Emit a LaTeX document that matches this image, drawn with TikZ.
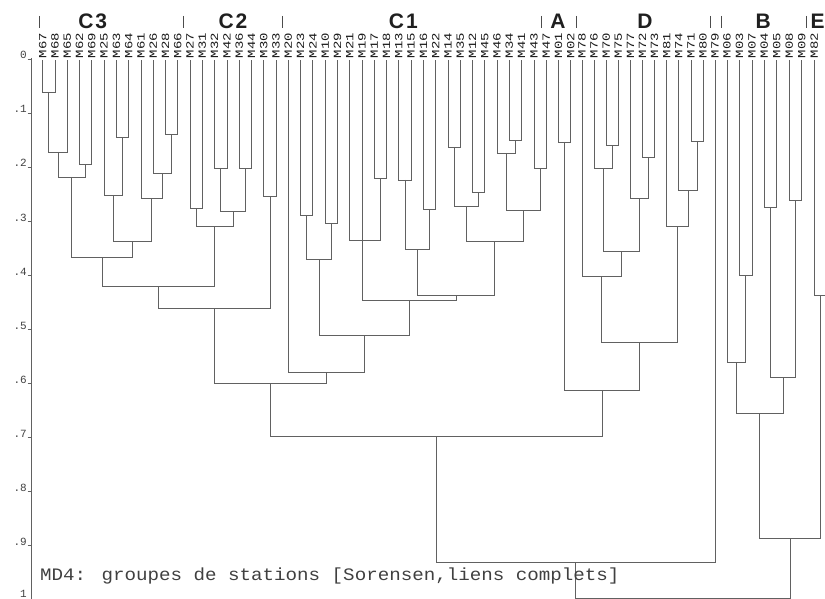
\documentclass[tikz,border=0pt]{standalone}
\usepackage{fontspec}
\usepackage{graphicx}
\usetikzlibrary{calc}
\newfontfamily\plotfont{Liberation Mono}
\newfontfamily\grpfont{Liberation Sans}
\tikzset{
  link/.style={draw=black!62, line width=0.75pt},
  leaflab/.style={font=\plotfont\fontsize{11}{11}\selectfont, text=black!90, inner sep=0pt, rotate=90, anchor=west},
  axlab/.style={font=\plotfont\fontsize{11}{11}\selectfont, text=black!75, inner sep=0pt, anchor=base east},
  grp/.style={font=\grpfont\bfseries\fontsize{21}{21}\selectfont, text=black!88, inner sep=0pt},
  grpbar/.style={draw=black!70, line width=0.9pt},
  axisline/.style={draw=black!62, line width=0.75pt},
  captext/.style={font=\plotfont\fontsize{14}{14}\selectfont, text=black!75, inner sep=0pt, anchor=base west},
}
\newcommand\mrg[4]{%
  \coordinate (h#1) at (0,#4);
  \coordinate (c#1) at ($(#2)!0.5!(#3)$);
  \coordinate (#1) at (c#1 |- h#1);
  \draw[link] (#2) -- (#2 |- h#1) -- (#3 |- h#1) -- (#3);
}
\begin{document}
\begin{tikzpicture}[x=1pt,y=-1pt]
\useasboundingbox (0,0) rectangle (825,599);
\clip (0,0) rectangle (825,599);
% leaves
\foreach \i/\lab in {0/M67,1/M68,2/M65,3/M62,4/M69,5/M25,6/M63,7/M64,8/M61,9/M26,10/M28,11/M66,
  12/M27,13/M31,14/M32,15/M42,16/M36,17/M44,18/M30,19/M33,
  20/M20,21/M23,22/M24,23/M10,24/M29,25/M21,26/M19,27/M17,28/M18,29/M13,30/M15,31/M16,32/M22,33/M14,34/M35,35/M12,36/M45,37/M46,38/M34,39/M41,40/M43,41/M47,
  42/M01,43/M02,44/M78,45/M76,46/M70,47/M75,48/M77,49/M72,50/M73,51/M81,52/M74,53/M71,54/M80,55/M79,
  56/M06,57/M03,58/M07,59/M04,60/M05,61/M08,62/M09,63/M82}{
  \pgfmathsetmacro\lx{\i<44 ? 42.7+12.28*\i : (\i<56 ? 582+12.1*(\i-44) : 727+12.45*(\i-56))}
  \coordinate (L\i) at (\lx,60);
  \node[leaflab] (t\i) at (\lx,58.5) {\scalebox{1.27}[1]{\lab}};
}
\coordinate (L64) at (826,60);
% axis
\draw[axisline] (31,58) -- (31,599);
\foreach \k/\t in {0/0,1/.1,2/.2,3/.3,4/.4,5/.5,6/.6,7/.7,8/.8,9/.9}{
  \pgfmathsetmacro\yy{59+54*\k}
  \draw[axisline] (27.5,\yy) -- (31,\yy);
  \node[axlab] (ax\k) at (27,\yy) {\t};
}
\node[axlab] (ax10) at (27,597) {1};
% group headers
\foreach \bx in {39.3,183.3,282.7,541,576,710,721.7,806.7}{
  \draw[grpbar] (\bx,16) -- (\bx,28);
}
\node[grp] (gC3) at (92.7,21) {C\kern2pt3};
\node[grp] (gC2) at (233,21) {C\kern2pt2};
\node[grp] (gC1) at (403.3,21) {C\kern2pt1};
\node[grp] (gA) at (558,21) {A};
\node[grp] (gD) at (645,21) {D};
\node[grp] (gB) at (763.3,21) {B};
\node[grp] (gE) at (817.5,21) {E};
% C3
\mrg{m1}{L0}{L1}{92}
\mrg{m2}{m1}{L2}{152}
\mrg{m3}{L3}{L4}{164}
\mrg{m4}{m2}{m3}{177}
\mrg{m5}{L6}{L7}{137}
\mrg{m6}{L5}{m5}{195}
\mrg{m7}{L10}{L11}{134}
\mrg{m8}{L9}{m7}{173}
\mrg{m9}{L8}{m8}{198}
\mrg{m10}{m6}{m9}{241}
\mrg{m11}{m4}{m10}{257}
% C2
\mrg{m12}{L12}{L13}{208}
\mrg{m13}{L14}{L15}{168}
\mrg{m14}{L16}{L17}{168}
\mrg{m15}{m13}{m14}{211}
\mrg{m16}{m12}{m15}{226}
\mrg{m17}{m11}{m16}{286}
\mrg{m18}{L18}{L19}{196}
\mrg{m19}{m17}{m18}{308}
% C1
\mrg{m20}{L21}{L22}{215}
\mrg{m21}{L23}{L24}{223}
\mrg{m22}{m20}{m21}{259}
\mrg{m23a}{L27}{L28}{178}
\coordinate (hm23) at (0,240);
\coordinate (m23) at (L26 |- hm23);
\draw[link] (L25) -- (L25 |- hm23) -- (m23a |- hm23) -- (m23a);
\draw[link] (L26) -- (m23);
\mrg{m24}{L29}{L30}{180}
\mrg{m25}{L31}{L32}{209}
\mrg{m26}{m24}{m25}{249}
\mrg{m27}{L33}{L34}{147}
\mrg{m28}{L35}{L36}{192}
\mrg{m29}{m27}{m28}{206}
\mrg{m30}{L38}{L39}{140}
\mrg{m31}{L37}{m30}{153}
\mrg{m32}{L40}{L41}{168}
\mrg{m33}{m31}{m32}{210}
\mrg{m34}{m29}{m33}{241}
\mrg{m35}{m26}{m34}{295}
\mrg{m36}{m23}{m35}{300}
\mrg{m37}{m22}{m36}{335}
\mrg{m38}{L20}{m37}{372}
\mrg{m39}{m19}{m38}{383}
% A and D
\mrg{m40}{L42}{L43}{142}
\mrg{m41}{L46}{L47}{145}
\mrg{m42}{L45}{m41}{168}
\mrg{m43}{L49}{L50}{157}
\mrg{m44}{L48}{m43}{198}
\mrg{m45}{m42}{m44}{251}
\mrg{m46}{L44}{m45}{276}
\mrg{m47}{L53}{L54}{141}
\mrg{m48}{L52}{m47}{190}
\mrg{m49}{L51}{m48}{226}
\mrg{m50}{m46}{m49}{342}
\mrg{m51}{m40}{m50}{390}
\mrg{m52}{m39}{m51}{436}
\mrg{m53}{m52}{L55}{562}
% B and E
\mrg{m54}{L57}{L58}{275}
\mrg{m55}{L56}{m54}{362}
\mrg{m56}{L59}{L60}{207}
\mrg{m57}{L61}{L62}{200}
\mrg{m58}{m56}{m57}{377}
\mrg{m59}{m55}{m58}{413}
\mrg{m60}{L63}{L64}{295}
\mrg{m61}{m59}{m60}{538}
\mrg{m62}{m53}{m61}{598}
% caption
\node[captext] (cap) at (40,580) {\scalebox{1.37}[1.25]{MD4: groupes de stations [Sorensen,liens complets]}};
\end{tikzpicture}
\end{document}
